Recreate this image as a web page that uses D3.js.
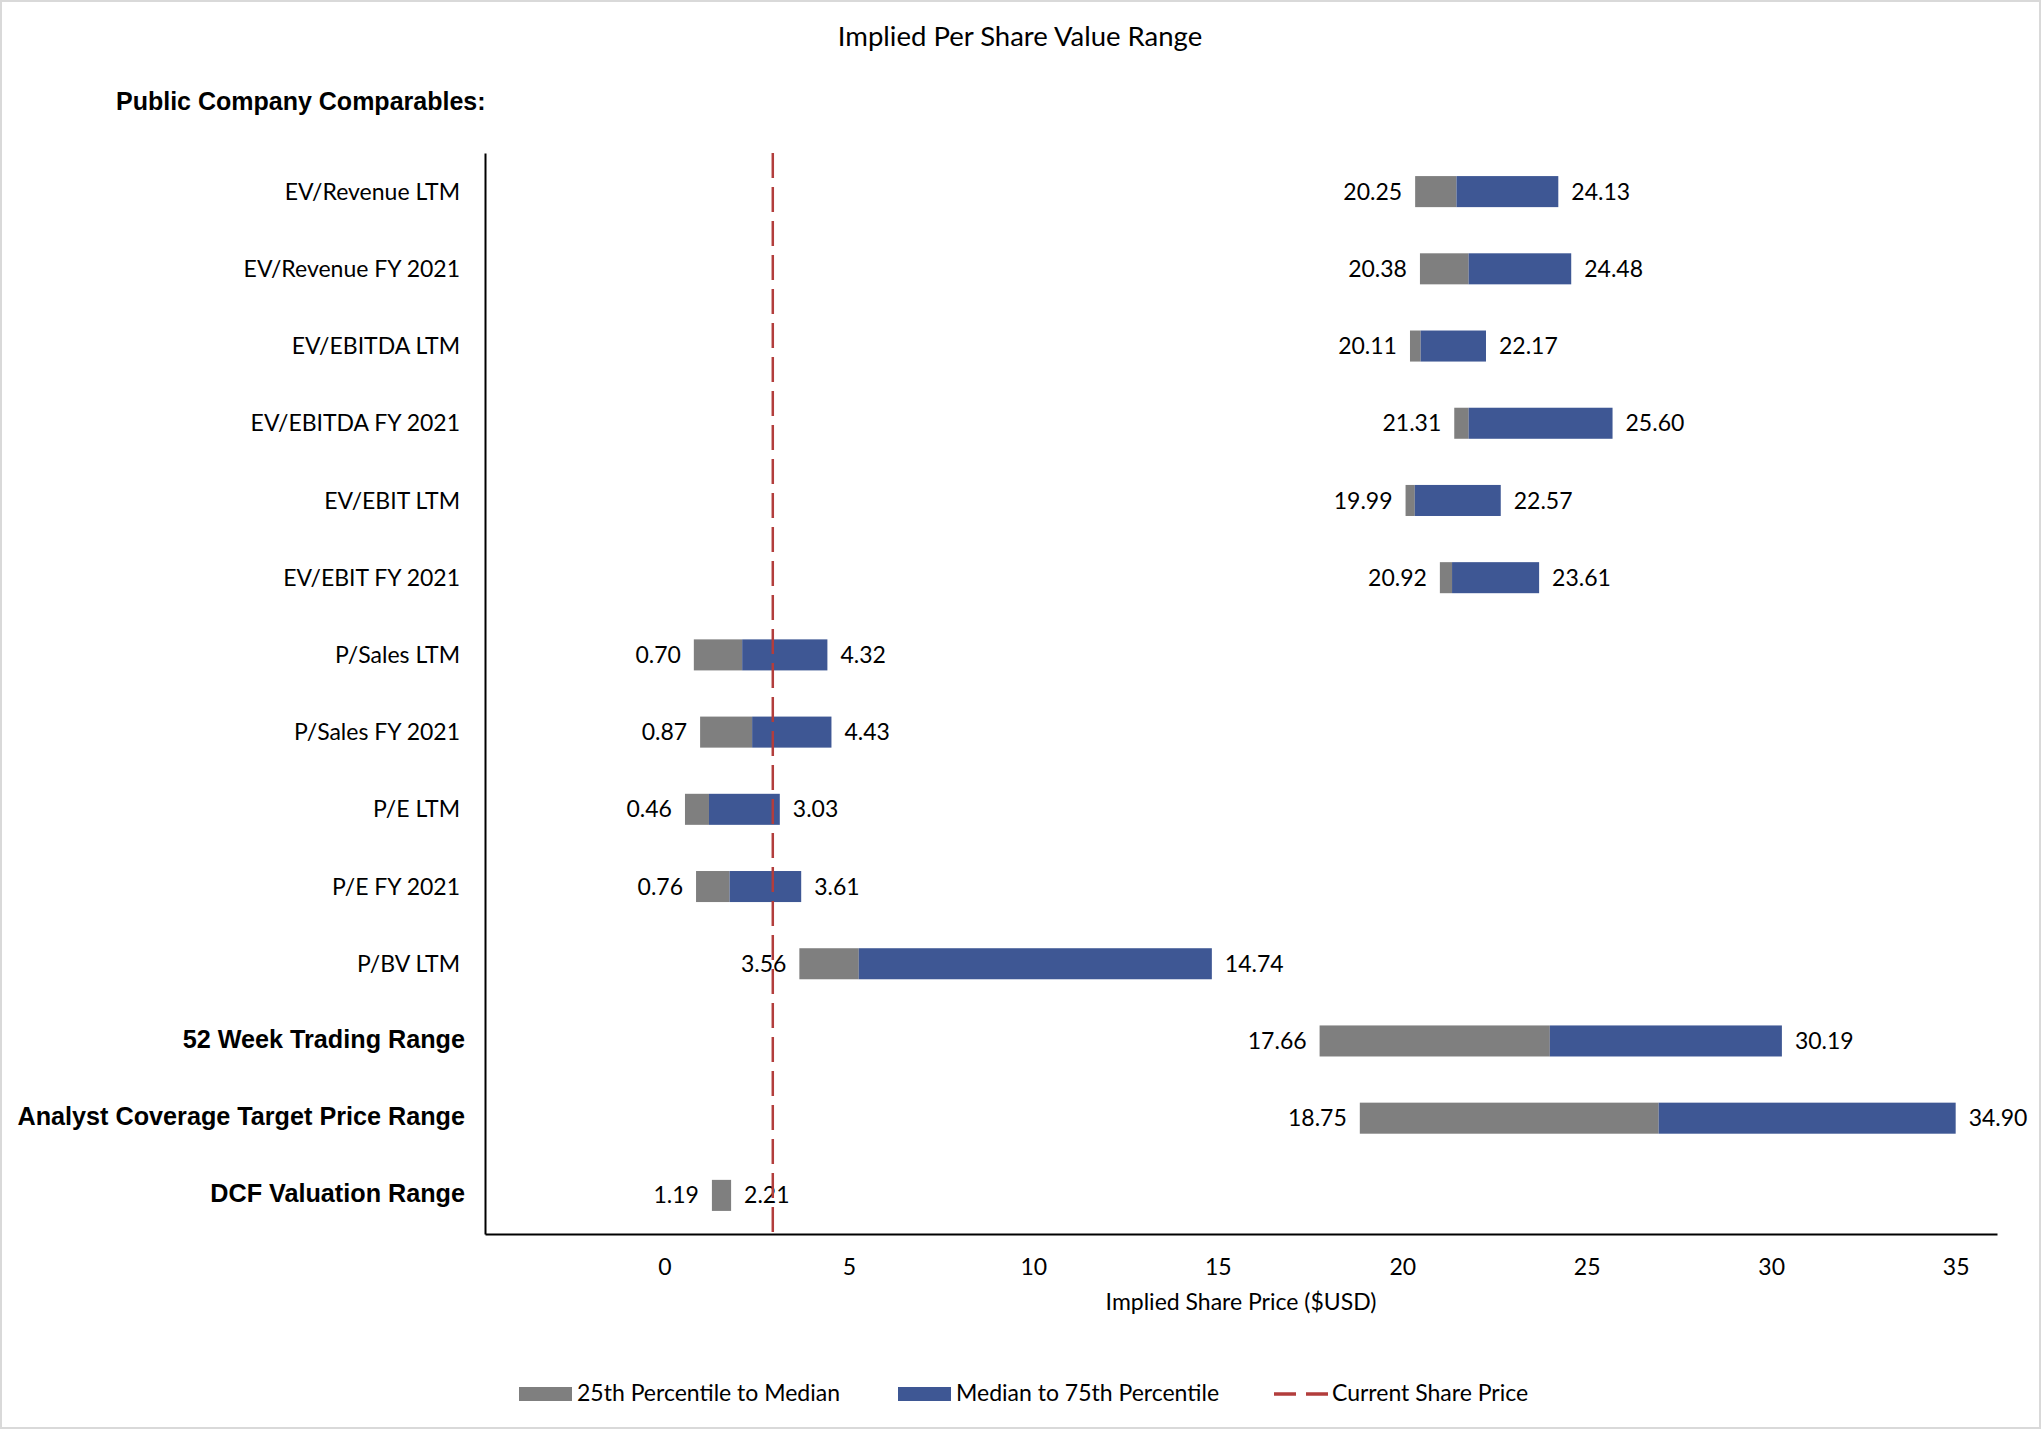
<!DOCTYPE html>
<meta charset="utf-8">
<title>Implied Per Share Value Range</title>
<style>
    body {
        margin: 0;
        background: #fff;
    }
    text {
        font-family: Lato, "Open Sans", sans-serif;
        fill: #000;
    }
    .arial {
        font-family: "Liberation Sans", Arial, sans-serif;
        font-weight: bold;
    }
</style>

<body>
    <script src="https://d3js.org/d3.v7.min.js"></script>
    <script>
        /* Valuation ranges: 25th percentile, median, 75th percentile (bar end) */
        var categories = ["EV/Revenue LTM", "EV/Revenue FY 2021", "EV/EBITDA LTM", "EV/EBITDA FY 2021",
            "EV/EBIT LTM", "EV/EBIT FY 2021", "P/Sales LTM", "P/Sales FY 2021", "P/E LTM", "P/E FY 2021",
            "P/BV LTM", "52 Week Trading Range", "Analyst Coverage Target Price Range", "DCF Valuation Range"];
        var boldCategories = ["52 Week Trading Range", "Analyst Coverage Target Price Range", "DCF Valuation Range"];
        var low = [20.25, 20.38, 20.11, 21.31, 19.99, 20.92, 0.70, 0.87, 0.46, 0.76, 3.56, 17.66, 18.75, 1.19];
        var median = [21.37, 21.70, 20.40, 21.70, 20.24, 21.25, 2.01, 2.28, 1.11, 1.67, 5.17, 23.90, 26.85, 1.71];
        var high = [24.13, 24.48, 22.17, 25.60, 22.57, 23.61, 4.32, 4.43, 3.03, 3.61, 14.74, 30.19, 34.90, 1.71];
        var highLabels = [24.13, 24.48, 22.17, 25.60, 22.57, 23.61, 4.32, 4.43, 3.03, 3.61, 14.74, 30.19, 34.90, 2.21];
        var currentPrice = 2.84;
        var xTicks = [0, 5, 10, 15, 20, 25, 30, 35];
        var legendLabels = ["25th Percentile to Median", "Median to 75th Percentile", "Current Share Price"];

        /* Layout */
        var width = 2043,
            height = 1431;
        var plotLeft = 485, plotRight = 1997, plotTop = 153, plotBottom = 1234;
        var gray = "#7f7f7f", blue = "#3e5794", red = "#b23d3c";

        var svg = d3.select("body").append("svg")
            .attr("width", width)
            .attr("height", height);

        // chart area border
        svg.append("rect")
            .attr("x", 1).attr("y", 1)
            .attr("width", 2039).attr("height", 1427)
            .attr("fill", "none")
            .attr("stroke", "#d9d9d9")
            .attr("stroke-width", 2);

        var x = d3.scaleLinear()
            .domain([-4.96, 36.02])
            .range([plotLeft, plotRight]);

        var y = d3.scaleBand()
            .domain(categories)
            .range([plotTop, plotBottom])
            .paddingInner(0.598)
            .paddingOuter(0.299);

        // title and section heading
        svg.append("text")
            .text("Implied Per Share Value Range")
            .attr("x", 1020).attr("y", 36)
            .attr("dy", "0.35em")
            .attr("text-anchor", "middle")
            .attr("font-size", 27.5);

        svg.append("text")
            .attr("class", "arial")
            .text("Public Company Comparables:")
            .attr("x", 116).attr("y", 101)
            .attr("dy", "0.35em")
            .attr("font-size", 25);

        /* bars */
        var rows = svg.selectAll("g.row")
            .data(categories)
            .enter()
            .append("g")
            .attr("class", "row");

        rows.append("rect")
            .attr("x", (d, i) => x(low[i]))
            .attr("y", d => y(d))
            .attr("width", (d, i) => x(median[i]) - x(low[i]))
            .attr("height", y.bandwidth())
            .attr("fill", gray);

        rows.append("rect")
            .attr("x", (d, i) => x(median[i]))
            .attr("y", d => y(d))
            .attr("width", (d, i) => x(high[i]) - x(median[i]))
            .attr("height", y.bandwidth())
            .attr("fill", blue);

        rows.append("text")
            .text((d, i) => low[i].toFixed(2))
            .attr("x", (d, i) => x(low[i]) - 13)
            .attr("y", d => y(d) + y.bandwidth() / 2)
            .attr("dy", "0.35em")
            .attr("text-anchor", "end")
            .attr("font-size", 23);

        rows.append("text")
            .text((d, i) => highLabels[i].toFixed(2))
            .attr("x", (d, i) => x(high[i]) + 13)
            .attr("y", d => y(d) + y.bandwidth() / 2)
            .attr("dy", "0.35em")
            .attr("font-size", 23);

        // category labels
        rows.append("text")
            .text(d => d)
            .attr("class", d => boldCategories.includes(d) ? "arial" : null)
            .attr("x", d => boldCategories.includes(d) ? plotLeft - 20 : plotLeft - 25)
            .attr("y", d => y(d) + y.bandwidth() / 2 - (boldCategories.includes(d) ? 2 : 0))
            .attr("dy", "0.35em")
            .attr("text-anchor", "end")
            .attr("font-size", d => boldCategories.includes(d) ? 25.2 : 23);

        /* axes */
        var xAxis = svg.append("g")
            .attr("transform", "translate(0," + plotBottom + ")")
            .call(d3.axisBottom(x).tickValues(xTicks).tickSize(0).tickSizeOuter(0));
        xAxis.select(".domain").attr("stroke", "#000").attr("stroke-width", 2);
        xAxis.selectAll("text")
            .attr("font-family", null)
            .attr("font-size", 23)
            .attr("y", 33)
            .attr("dy", "0.35em")
            .attr("dx", -3.7);

        var yAxis = svg.append("g")
            .attr("transform", "translate(" + plotLeft + ",0)")
            .call(d3.axisLeft(y).tickValues([]).tickSizeOuter(0));
        yAxis.select(".domain").attr("stroke", "#000").attr("stroke-width", 2);

        svg.append("text")
            .text("Implied Share Price ($USD)")
            .attr("x", (plotLeft + plotRight) / 2)
            .attr("y", 1302)
            .attr("dy", "0.35em")
            .attr("text-anchor", "middle")
            .attr("font-size", 23);

        // current share price
        svg.append("line")
            .attr("x1", x(currentPrice)).attr("x2", x(currentPrice))
            .attr("y1", plotTop).attr("y2", plotBottom)
            .attr("stroke", red)
            .attr("stroke-width", 2.5)
            .attr("stroke-dasharray", "25,9");

        /* legend */
        var legend = svg.append("g").attr("transform", "translate(0,1394)");
        var legendX = [519, 898, 1274];

        legend.selectAll("rect")
            .data([gray, blue])
            .enter()
            .append("rect")
            .attr("x", (d, i) => legendX[i])
            .attr("y", -7)
            .attr("width", 53)
            .attr("height", 14)
            .attr("fill", d => d);

        legend.append("line")
            .attr("x1", legendX[2]).attr("x2", legendX[2] + 54)
            .attr("y1", 0).attr("y2", 0)
            .attr("stroke", red)
            .attr("stroke-width", 3.5)
            .attr("stroke-dasharray", "22,10");

        legend.selectAll("text")
            .data(legendLabels)
            .enter()
            .append("text")
            .text(d => d)
            .attr("x", (d, i) => legendX[i] + 58)
            .attr("y", -1)
            .attr("dy", "0.35em")
            .attr("font-size", 23);
    </script>
</body>
